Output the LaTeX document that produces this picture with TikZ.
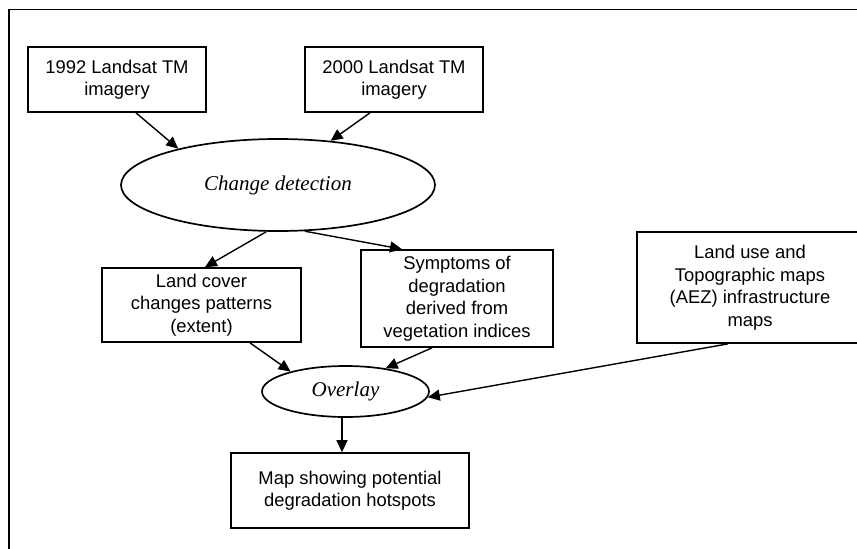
\documentclass[tikz,border=0pt]{standalone}
\usepackage{fontspec}
\setmainfont{Liberation Sans}
\newfontfamily\serifit{Liberation Serif}
\usetikzlibrary{arrows.meta,shapes.geometric,calc}
\begin{document}
\begin{tikzpicture}[x=1pt,y=-1pt,
  boxnode/.style={draw, line width=1.7pt, rectangle, inner sep=0pt, align=center,
    font=\fontsize{18.4}{22.5}\selectfont},
  ovalnode/.style={draw, line width=1.7pt, ellipse, inner sep=0pt,
    font=\fontsize{21}{24}\selectfont\serifit\itshape},
  conn/.style={line width=1.4pt, -{Triangle[length=12pt,width=11pt]}}]
\useasboundingbox (0,0) rectangle (857,549);
\draw[line width=1.8pt] (9,549) -- (9,9.5) -- (857,9.5);

\node[boxnode, minimum width=178, minimum height=65] (b1) at (117,79.5) {1992 Landsat TM\\imagery};
\node[boxnode, minimum width=178, minimum height=65] (b2) at (394,79.5) {2000 Landsat TM\\imagery};
\node[ovalnode, minimum width=314, minimum height=92] (cd) at (278,185) {Change detection};
\node[boxnode, minimum width=199, minimum height=74] (lc) at (201.5,305) {Land cover\\changes patterns\\(extent)};
\node[boxnode, minimum width=192, minimum height=97] (sy) at (457,298.5) {Symptoms of\\degradation\\derived from\\vegetation indices};
\node[boxnode, minimum width=226, minimum height=111] (lu) at (750,287.5) {Land use and\\Topographic maps\\(AEZ) infrastructure\\maps};
\node[ovalnode, minimum width=167, minimum height=51] (ov) at (345.5,391.5) {Overlay};
\node[boxnode, minimum width=238, minimum height=75] (mp) at (350,490.5) {Map showing potential\\degradation hotspots};

\draw[conn] ($(b1.south)+(19,0)$) -- (cd.160.7);
\draw[conn] ($(b2.south)+(-24,0)$) -- (cd.40);
\draw[conn] (cd.256) -- ($(lc.north)+(3.5,0)$);
\draw[conn] (cd.300) -- ($(sy.north)+(-55,0)$);
\draw[conn] ($(lc.south)+(48.5,0)$) -- (ov.160);
\draw[conn] ($(sy.south)+(-25,0)$) -- (ov.30);
\draw[conn] ($(lu.south)+(-22,0)$) -- (ov.356);
\draw[conn] ($(ov.south)+(-3.5,0)$) -- ($(mp.north)+(-8,0)$);
\end{tikzpicture}
\end{document}
